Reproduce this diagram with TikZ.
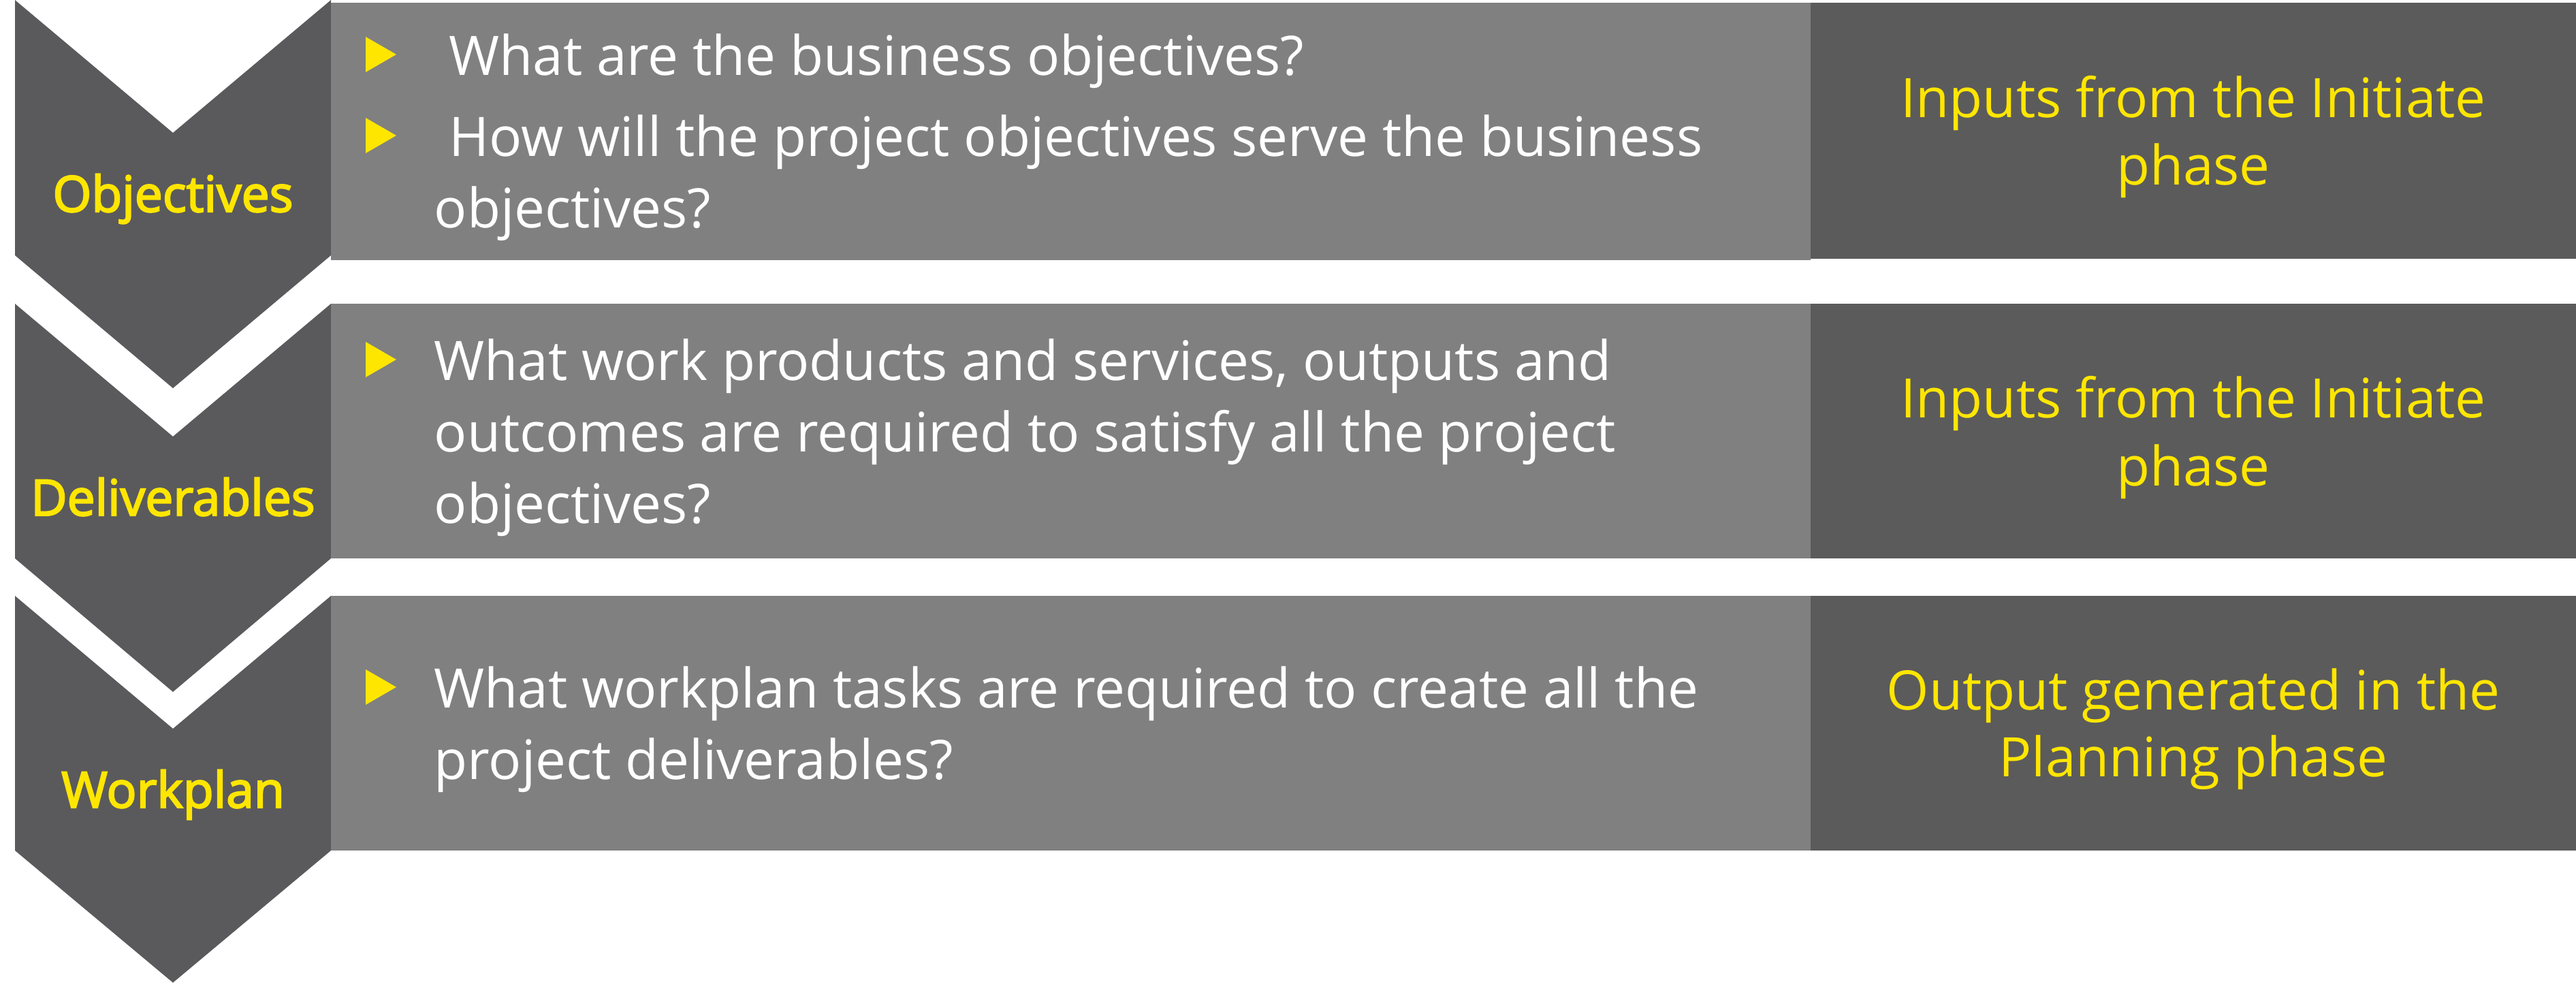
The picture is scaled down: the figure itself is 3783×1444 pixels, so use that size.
\documentclass[tikz,border=0pt]{standalone}
\usepackage{fontspec}
\setmainfont{Open Sans}
\newfontfamily\labelfont[FakeBold=3]{Open Sans}
\definecolor{chev}{RGB}{90,90,92}
\definecolor{lgray}{RGB}{128,128,128}
\definecolor{dgray}{RGB}{91,91,91}
\definecolor{eyyellow}{RGB}{255,230,0}
\begin{document}
\begin{tikzpicture}[x=0.01cm,y=-0.01cm,
  chevron/.style={fill=chev},
  qbox/.style={fill=lgray},
  abox/.style={fill=dgray},
  bullettri/.style={fill=eyyellow},
  qtext/.style={inner sep=0pt,anchor=base west,text=white,font=\fontsize{22.75}{28}\selectfont},
  atext/.style={inner sep=0pt,anchor=base,text=eyyellow,font=\fontsize{22.75}{28}\selectfont},
  steplabel/.style={inner sep=0pt,anchor=base,text=eyyellow,font=\labelfont\fontsize{20.8}{26}\selectfont}]
\useasboundingbox (0,0) rectangle (3783,1444);
% chevrons
\fill[chevron] (22,0) -- (254,195) -- (486,0) -- (486,375) -- (254,570) -- (22,375) -- cycle;
\fill[chevron] (22,446) -- (254,641) -- (486,446) -- (486,820) -- (254,1016) -- (22,820) -- cycle;
\fill[chevron] (22,875) -- (254,1070) -- (486,875) -- (486,1249) -- (254,1443) -- (22,1249) -- cycle;
% question boxes
\fill[qbox] (486,4) rectangle (2659,382);
\fill[qbox] (486,446) rectangle (2659,820);
\fill[qbox] (486,875) rectangle (2659,1249);
% answer boxes
\fill[abox] (2659,4) rectangle (3783,380);
\fill[abox] (2659,446) rectangle (3783,820);
\fill[abox] (2659,875) rectangle (3783,1249);
% bullets
\foreach \c in {80,199,528,1009}{
  \fill[bullettri] (537,\c-26) -- (582,\c) -- (537,\c+26) -- cycle;
}
% step labels
\node[steplabel] (lobj) at (254,311) {Objectives};
\node[steplabel] (ldel) at (254,757) {Deliverables};
\node[steplabel] (lwork) at (254,1186) {Workplan};
% questions
\node[qtext] (q1a) at (659,110) {What are the business objectives?};
\node[qtext] (q1b) at (659,229) {How will the project objectives serve the business};
\node[qtext] (q1c) at (637,334) {objectives?};
\node[qtext] (q2a) at (637,558) {What work products and services, outputs and};
\node[qtext] (q2b) at (637,663) {outcomes are required to satisfy all the project};
\node[qtext] (q2c) at (637,768) {objectives?};
\node[qtext] (q3a) at (637,1039) {What workplan tasks are required to create all the};
\node[qtext] (q3b) at (637,1144) {project deliverables?};
% answers
\node[atext] (a1a) at (3221,172) {Inputs from the Initiate};
\node[atext] (a1b) at (3221,271) {phase};
\node[atext] (a2a) at (3221,613) {Inputs from the Initiate};
\node[atext] (a2b) at (3221,713) {phase};
\node[atext] (a3a) at (3221,1042) {Output generated in the};
\node[atext] (a3b) at (3221,1140) {Planning phase};
\end{tikzpicture}
\end{document}
